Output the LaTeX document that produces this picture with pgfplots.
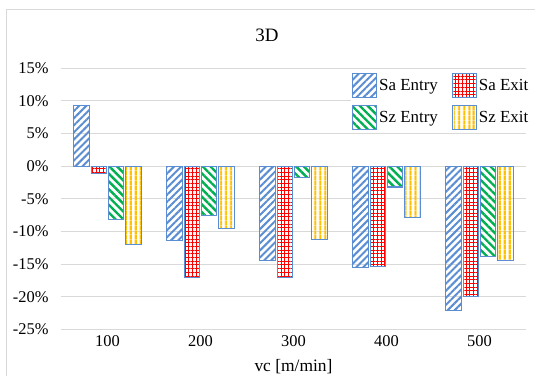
\documentclass[border=0pt]{standalone}
\usepackage{fontspec}
\setmainfont{Liberation Serif}
\usepackage{pgfplots}
\pgfplotsset{compat=1.18}
\usetikzlibrary{patterns.meta}
\definecolor{edgeblue}{HTML}{5B8DD2}
\definecolor{stripeblue}{HTML}{5B8DD2}
\definecolor{gridred}{HTML}{FF0000}
\definecolor{stripegreen}{HTML}{00B050}
\definecolor{stripeyellow}{HTML}{FFC000}
\definecolor{gridgray}{HTML}{D9D9D9}
\begin{document}
\begin{tikzpicture}
\path[use as bounding box] (-61bp,-46.5bp) rectangle (474bp,329.5bp);
\draw[gridgray, line width=1bp] (-54.5bp,-46.5bp) -- (-54.5bp,319.5bp) -- (474bp,319.5bp);
\begin{axis}[
  at={(0,0)}, anchor=south west,
  scale only axis, width=465bp, height=261.5bp,
  xmin=-0.5, xmax=4.5, ymin=-25, ymax=15,
  ybar=1.8bp, bar width=15.5bp,
  xtick={0,...,4}, xticklabels={100,200,300,400,500},
  ytick={-25,-20,...,15},
  yticklabels={-25\%,-20\%,-15\%,-10\%,-5\%,0\%,5\%,10\%,15\%},
  axis x line=bottom, axis y line=left,
  axis line style={draw=none,-},
  major tick length=0pt,
  ymajorgrids, grid style={draw=gridgray, line width=0.9bp},
  ticklabel style={font=\fontsize{16.5}{18}\selectfont},
  yticklabel style={xshift=-9bp},
  xticklabel style={yshift=-3bp},
  xlabel={vc [m/min]},
  xlabel style={font=\fontsize{17.5}{19}\selectfont, at={(0.5,0)}, anchor=center, yshift=-37bp},
  legend style={at={(1.012,0.985)}, anchor=north east, draw=none, fill=white,
    font=\fontsize{17}{19}\selectfont, row sep=7bp, inner sep=1bp,
    /tikz/every odd column/.append style={column sep=0bp},
    /tikz/every even column/.append style={column sep=12bp}},
  legend columns=2, legend cell align=left,
  mybar/.style={legend image code/.code={\draw[##1] (0bp,-12bp) rectangle (24bp,12bp);}},
]
\addplot[mybar, draw=edgeblue, line width=1.1bp, pattern={Lines[angle=45,distance=5bp,line width=2bp]}, pattern color=stripeblue]
  coordinates {(0,9.2) (1,-11.4) (2,-14.5) (3,-15.5) (4,-22.1)};
\addplot[mybar, draw=edgeblue, line width=1.1bp, fill=white,
  pattern={Lines[angle=0,distance=3.7bp,line width=1bp]}, pattern color=gridred,
  postaction={pattern={Lines[angle=90,distance=3.7bp,line width=1bp]}, pattern color=gridred}]
  coordinates {(0,-1.1) (1,-17.0) (2,-17.1) (3,-15.4) (4,-20.0)};
\addplot[mybar, draw=edgeblue, line width=1.1bp, pattern={Lines[angle=-45,distance=5.5bp,line width=2.4bp]}, pattern color=stripegreen]
  coordinates {(0,-8.2) (1,-7.6) (2,-1.7) (3,-3.2) (4,-13.8)};
\addplot[mybar, draw=edgeblue, line width=1.1bp, pattern={Lines[angle=90,distance=5.2bp,line width=2.5bp]}, pattern color=stripeyellow]
  coordinates {(0,-12.0) (1,-9.6) (2,-11.2) (3,-7.8) (4,-14.5)};
\legend{Sa Entry, Sa Exit, Sz Entry, Sz Exit}
\end{axis}
\node[font=\fontsize{19}{21}\selectfont] at (206bp,294.5bp) {3D};
\end{tikzpicture}
\end{document}
